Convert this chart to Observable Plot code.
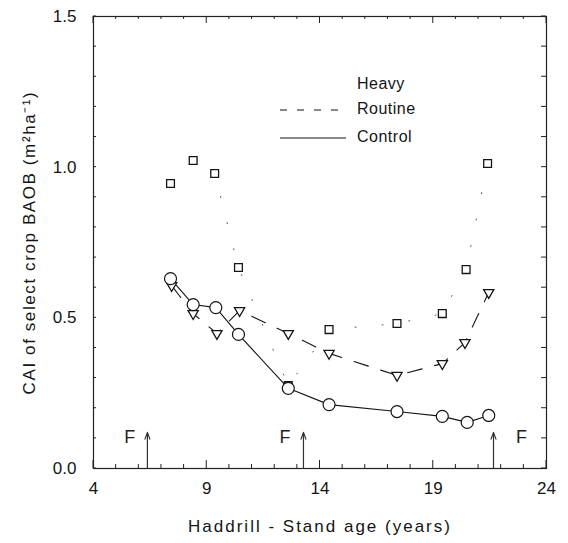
<!DOCTYPE html>
<html><head><meta charset="utf-8">
<script src="https://cdn.jsdelivr.net/npm/d3@7"></script>
<script src="https://cdn.jsdelivr.net/npm/@observablehq/plot@0.6"></script>
<style>
body{margin:0;background:#fff;}
#chart svg{font-family:"Liberation Sans",Arial,sans-serif;}
</style></head><body><div id="chart"></div>
<script>
// ---- data ----
const series = ["Heavy", "Routine", "Control"];
const heavyAge   = [7.4, 8.4, 9.35, 10.4, 12.6, 14.4, 17.4, 19.4, 20.45, 21.4];
const heavyCAI   = [0.946, 1.022, 0.979, 0.667, 0.275, 0.461, 0.481, 0.514, 0.660, 1.012];
const routineAge = [7.45, 8.4, 9.45, 10.45, 12.6, 14.4, 17.4, 19.4, 20.4, 21.45];
const routineCAI = [0.607, 0.514, 0.448, 0.524, 0.448, 0.382, 0.309, 0.348, 0.418, 0.584];
const controlAge = [7.4, 8.4, 9.4, 10.4, 12.6, 14.4, 17.4, 19.4, 20.5, 21.45];
const controlCAI = [0.630, 0.544, 0.534, 0.445, 0.266, 0.212, 0.189, 0.173, 0.153, 0.176];
// fertiliser application markers
const fAge   = [6.38, 13.27, 21.66];
const fLabelAge = [5.6, 12.45, 22.9];
const fTop   = 0.12;
const fLabelY = 0.103;
// ticks
const xMajor = [4, 9, 14, 19, 24];
const xMinor = [4,5,6,7,8,9,10,11,12,13,14,15,16,17,18,19,20,21,22,23,24];
const yMajor = [0, 0.5, 1.0, 1.5];
const yLabels = ["0.0", "0.5", "1.0", "1.5"];
const yMinor = [0,0.1,0.2,0.3,0.4,0.5,0.6,0.7,0.8,0.9,1.0,1.1,1.2,1.3,1.4,1.5];
const xTitle = "Haddrill - Stand age (years)";
const yTitle = "CAI of select crop BAOB (m\u00B2ha\u207B\u00B9)";

const toRows = (ages, vals, s) => ages.map((a, i) => ({age: a, cai: vals[i], s}));
const heavy = toRows(heavyAge, heavyCAI, "Heavy");
const routine = toRows(routineAge, routineCAI, "Routine");
const control = toRows(controlAge, controlCAI, "Control");
const fRows = fAge.map((a, i) => ({age: a, top: fTop, lx: fLabelAge[i], ly: fLabelY}));

const W = 568, H = 543, mL = 93, mR = 22, mT = 16, mB = 75;
const ink = "#151515";
const plot = Plot.plot({
  width: W, height: H,
  marginLeft: mL, marginRight: mR, marginTop: mT, marginBottom: mB,
  x: {domain: [4, 24]},
  y: {domain: [0, 1.5]},
  style: {fontFamily: "'Liberation Sans', Arial, sans-serif", fontSize: "16px", color: ink, background: "white"},
  marks: [
    Plot.frame({stroke: "#222", strokeWidth: 1.2}),
    Plot.axisX({anchor: "bottom", ticks: xMajor, tickSize: 0, tickPadding: 13, fontSize: 17,
      label: xTitle, labelAnchor: "center", labelOffset: 63, labelArrow: "none"}),
    Plot.axisY({anchor: "left", ticks: yMajor, tickSize: 0, tickPadding: 17, fontSize: 17,
      tickFormat: (d, i) => yLabels[i], label: yTitle, labelAnchor: "center", labelOffset: 71, labelArrow: "none"}),
    // lines
    Plot.line(heavy, {x: "age", y: "cai", stroke: "#555", strokeWidth: 1, strokeDasharray: "1,26", strokeLinecap: "round"}),
    Plot.line(routine, {x: "age", y: "cai", stroke: ink, strokeWidth: 1.1, strokeDasharray: "15,13"}),
    Plot.line(control, {x: "age", y: "cai", stroke: ink, strokeWidth: 1.1}),
    // markers
    Plot.dot(heavy, {x: "age", y: "cai", symbol: "square", r: 4.4, fill: "white", stroke: ink, strokeWidth: 1.3}),
    Plot.dot(routine, {x: "age", y: "cai", symbol: "triangle", rotate: 180, r: 3.8, fill: "white", stroke: ink, strokeWidth: 1.3}),
    Plot.dot(control, {x: "age", y: "cai", symbol: "circle", r: 6, fill: "white", stroke: ink, strokeWidth: 1.2}),
    // F arrows
    Plot.arrow(fRows, {x1: "age", x2: "age", y1: 0, y2: "top", stroke: "#333", strokeWidth: 1.2, headLength: 9, headAngle: 40}),
    Plot.text(fRows, {x: "lx", y: "ly", text: () => "F", fontSize: 18, fill: "#222"})
  ]
});

const svg = d3.select(plot);
const sx = plot.scale("x"), sy = plot.scale("y");
const x0 = mL, x1 = W - mR, y0 = H - mB, y1 = mT;
// inward tick marks on all four sides, positioned by the plot's own scales
const tg = svg.append("g").attr("stroke", "#222").attr("stroke-width", 1);
xMinor.forEach(v => {
  const px = sx.apply(v), len = xMajor.includes(v) ? 8 : 4;
  tg.append("line").attr("x1", px).attr("x2", px).attr("y1", y0).attr("y2", y0 - len);
  tg.append("line").attr("x1", px).attr("x2", px).attr("y1", y1).attr("y2", y1 + len - 1);
});
yMinor.forEach(v => {
  const py = sy.apply(v);
  tg.append("line").attr("x1", x0).attr("x2", x0 + 3).attr("y1", py).attr("y2", py);
  tg.append("line").attr("x1", x1).attr("x2", x1 - 5).attr("y1", py).attr("y2", py);
});
svg.selectAll('[aria-label="x-axis label"] text').style("letter-spacing", "2px").style("font-size", "17px");
svg.selectAll('[aria-label="y-axis label"] text').style("letter-spacing", "1.6px");
// legend (inside plot area)
const lg = svg.append("g").attr("font-size", 16).attr("fill", ink)
  .attr("text-anchor", "start").style("letter-spacing", "0.5px");
const legendRows = [
  {name: series[0], y: 83, dash: null},
  {name: series[1], y: 108, dash: "7,10"},
  {name: series[2], y: 136, dash: "none"}
];
legendRows.forEach(r => {
  lg.append("text").attr("x", 357).attr("y", r.y).attr("dy", "0.35em").text(r.name);
  if (r.dash) lg.append("line").attr("x1", 280).attr("x2", 346).attr("y1", r.y + 2).attr("y2", r.y + 2)
    .attr("stroke", ink).attr("stroke-width", 1).attr("stroke-dasharray", r.dash);
});
document.getElementById("chart").append(plot);
</script></body></html>
